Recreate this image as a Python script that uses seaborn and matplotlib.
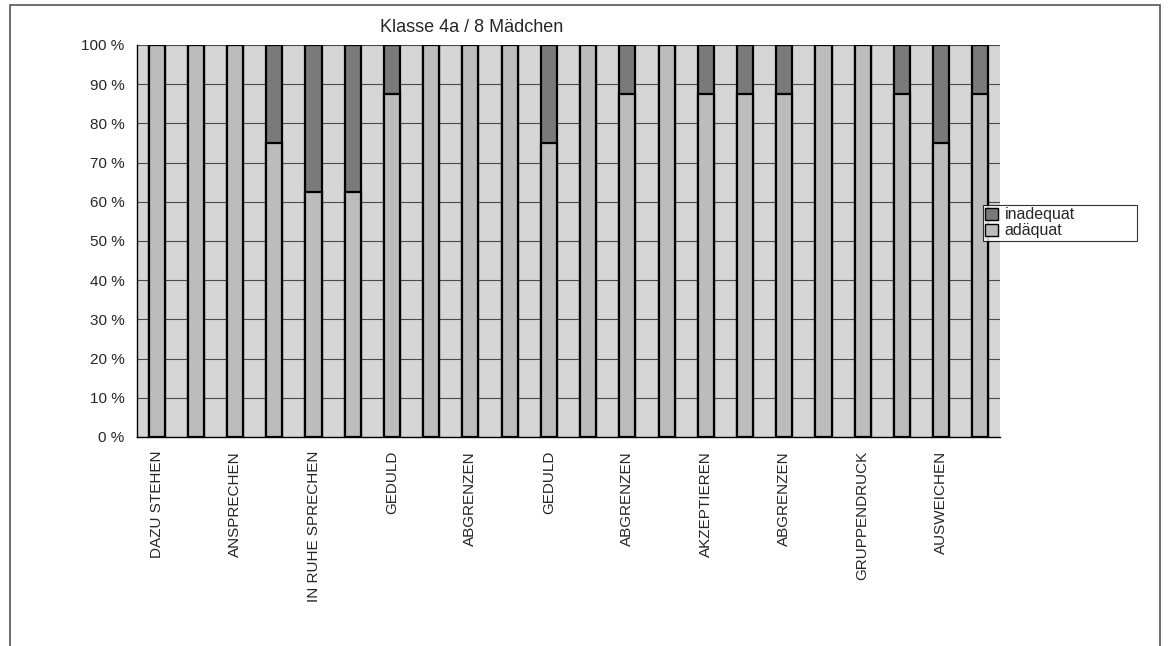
import numpy as np
import pandas as pd
import matplotlib
matplotlib.use("Agg")
import matplotlib.pyplot as plt
from matplotlib.patches import Patch, Rectangle
import seaborn as sns

# ---- data -------------------------------------------------------------
title = "Klasse 4a / 8 Mädchen"
items = list(range(1, 23))
adaequat = [100, 100, 100, 75, 62.5, 62.5, 87.5, 100, 100, 100, 75,
            100, 87.5, 100, 87.5, 87.5, 87.5, 100, 100, 87.5, 75, 87.5]
inadequat = [0, 0, 0, 25, 37.5, 37.5, 12.5, 0, 0, 0, 25,
             0, 12.5, 0, 12.5, 12.5, 12.5, 0, 0, 12.5, 25, 12.5]
tick_labels = ["DAZU STEHEN", "ANSPRECHEN", "IN RUHE SPRECHEN", "GEDULD",
               "ABGRENZEN", "GEDULD", "ABGRENZEN", "AKZEPTIEREN",
               "ABGRENZEN", "GRUPPENDRUCK", "AUSWEICHEN"]
y_ticks = [0, 10, 20, 30, 40, 50, 60, 70, 80, 90, 100]
series_names = ["inadequat", "adäquat"]

# ---- style ------------------------------------------------------------
sns.set_style("white")
plt.rcParams["font.family"] = ["Liberation Sans", "DejaVu Sans"]

dark = "#7a7a7a"
light = "#bcbcbc"
bg = "#d6d6d6"

df = pd.DataFrame({"item": items, "adäquat": adaequat, "inadequat": inadequat})
df["gesamt"] = df["adäquat"] + df["inadequat"]

W, H = 1168, 646
fig = plt.figure(figsize=(W / 100, H / 100), dpi=100)
ax = fig.add_axes([137 / W, 1 - 437 / H, (1000 - 137) / W, (437 - 45) / H])
ax.set_facecolor(bg)

# stacked bars: full height in the dark tone, adequate share on top of it
sns.barplot(data=df, x="item", y="gesamt", color=dark, saturation=1,
            width=0.41, edgecolor="black", linewidth=1.6, errorbar=None, ax=ax)
sns.barplot(data=df, x="item", y="adäquat", color=light, saturation=1,
            width=0.41, edgecolor="black", linewidth=1.6, errorbar=None, ax=ax)

n = len(items)
ax.set_xlim(-0.5, n - 0.5)
ax.set_ylim(0, 100)

# horizontal grid every 10 %
ax.set_yticks(y_ticks)
ax.set_yticklabels([f"{v} %" for v in y_ticks], fontsize=11)
ax.yaxis.grid(True, color="#4a4a4a", linewidth=0.8)
ax.set_axisbelow(True)

# tick marks between categories, labels on every second bar
ax.set_xticks(np.arange(-0.5, n, 1.0))
ax.set_xticklabels([])
ax.set_xticks(np.arange(0, n, 2), minor=True)
ax.set_xticklabels(tick_labels, minor=True, rotation=90, fontsize=11, va="top")
ax.tick_params(axis="x", which="major", length=4, width=0.8, color="black", direction="out")
ax.tick_params(axis="x", which="minor", length=0, pad=10)
ax.tick_params(axis="y", length=6, width=0.8, color="black", direction="out", pad=3)
ax.set_xlabel("")
ax.set_ylabel("")

for side in ("top", "right"):
    ax.spines[side].set_visible(False)
for side in ("left", "bottom"):
    ax.spines[side].set_color("black")
    ax.spines[side].set_linewidth(1.0)

fig.text(472 / W, 1 - 27 / H, title, ha="center", va="center", fontsize=13)

handles = [Patch(facecolor=dark, edgecolor="black", linewidth=1.0),
           Patch(facecolor=light, edgecolor="black", linewidth=1.0)]
leg = fig.legend(handles, series_names, loc="upper left", mode="expand",
                 bbox_to_anchor=(983 / W, 1 - 237 / H, (1137 - 983) / W, 32 / H),
                 frameon=True, fancybox=False, fontsize=11.5,
                 handlelength=0.8, handleheight=0.8, handletextpad=0.4,
                 labelspacing=0.05, borderpad=0.15, borderaxespad=0)
leg.get_frame().set_edgecolor("black")
leg.get_frame().set_linewidth(0.8)

# outer chart frame (open towards the bottom edge)
fig.add_artist(Rectangle((10 / W, -0.05), (1160 - 10) / W, 1.05 - 5 / H,
                         transform=fig.transFigure, fill=False,
                         edgecolor="#555555", linewidth=1.2))

fig.savefig("out.png", dpi=100)
